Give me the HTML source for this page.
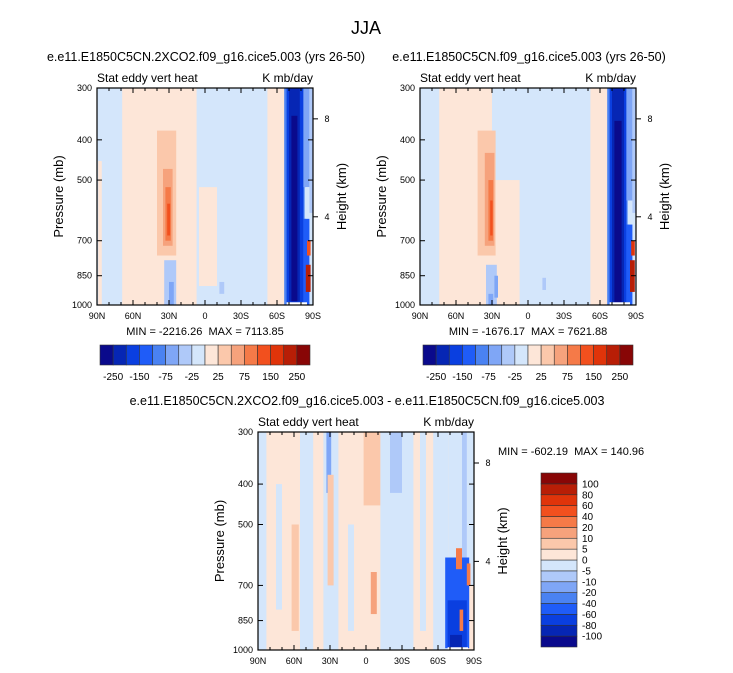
<!DOCTYPE html>
<html><head><meta charset="utf-8"><style>
html,body{margin:0;padding:0;background:#fff;}
svg{display:block;font-family:"Liberation Sans",Arial,sans-serif;}
</style></head><body>
<svg id="fig" width="733" height="673" viewBox="0 0 733 673" xmlns="http://www.w3.org/2000/svg">
<text x="366" y="34" font-size="18" text-anchor="middle">JJA</text>
</svg>
<script>
// ---- data ----
const colors = ["#0a0a8c","#0626b4","#0a3fe0","#1f5cf8","#4a82f2","#7fa6f6","#afc9f9","#d4e6fb","#fde6d8","#fbc8ab","#f6a27c","#f57a48","#f2501e","#e0340a","#b81e06","#880606"];
const topLevelLabels = ["-250","-150","-75","-25","25","75","150","250"];
const diffLevelLabels = ["100","80","60","40","20","10","5","0","-5","-10","-20","-40","-60","-80","-100"];
const latTicks = [90,60,30,0,-30,-60,-90];
const latTickLabels = ["90N","60N","30N","0","30S","60S","90S"];
const pTicks = [300,400,500,700,850,1000];
const heightTicks = [8,4];
const heightPressures = [356,613];
// field patches: [lat1, lat2, pTop, pBottom, colorIndex]
const field1 = [
 [90,-90,300,1000,7],[69,7,300,1000,8],[89,86,450,1000,8],
 [40,24,380,760,9],[35,27,470,720,10],[33,28.5,520,700,11],[31.5,29,570,680,12],
 [34,24,780,1000,6],[30,26,880,1000,5],[5,-10,520,900,8],
 [-12,-16,880,940,6],[-52,-68,300,1000,8],
 [-66,-84,300,1000,4],[-68,-82,300,1000,2],[-70,-79,300,980,1],[-72,-77,350,980,0],
 [-82,-87,300,520,5],[-83,-88,520,620,7],[-82,-87,620,1000,3],
 [-85,-88,700,760,12],[-84,-88,800,930,14],[-87,-90,300,600,6]
];
const field2 = [
 [90,-90,300,1000,7],[74,50,300,1000,8],[50,30,300,1000,8],[30,7,500,1000,8],
 [42,27,380,760,9],[36,28,430,720,10],[33,29,500,700,11],[31.5,29.5,560,680,12],
 [35,26,800,1000,6],[28,25,850,960,5],[33,29,940,1000,5],
 [-12,-15,860,920,6],[-52,-67,300,1000,8],
 [-66,-84,300,1000,4],[-68,-82,300,1000,2],[-70,-80,300,985,1],[-72,-78,360,985,0],
 [-82,-87,300,560,5],[-83,-87,560,640,7],[-82,-87,640,1000,3],
 [-86,-89,700,760,13],[-85,-89,780,930,14],[-87,-90,300,600,6]
];
const field3 = [
 [90,-90,300,1000,8],[90,83,300,1000,7],[55,44,300,1000,7],[35.5,23,300,1000,7],
 [33,29,300,420,5],[62,56,500,900,9],[32,27,380,700,9],[75,70,400,800,7],
 [2,-12,300,450,9],[-4,-9,650,820,10],[-12,-39.5,300,1000,7],[-20,-30,300,420,6],
 [15,10,500,900,7],[-45,-50,300,900,7],
 [-56,-69,300,1000,7],[-69,-90,300,700,7],[-80,-84,300,700,6],
 [-66,-86,600,990,3],[-68,-84,760,990,2],[-70,-80,920,990,1],
 [-75,-80,570,640,11],[-84,-87,620,700,11],[-78,-81,800,900,11]
];

const svg = document.getElementById('fig');
const NS = "http://www.w3.org/2000/svg";
function mk(tag, attrs, parent){ const e=document.createElementNS(NS,tag); for(const k in attrs) e.setAttribute(k,attrs[k]); (parent||svg).appendChild(e); return e; }

function panel(x0,y0,w,h,field,title,minmax,mmx,mmy,mmAnchor,name){
  const g = mk('g',{});
  
  
  const xs = lat => x0 + (90-lat)/180*w;
  const ys = p => y0 + Math.log(p/300)/Math.log(1000/300)*h;
  field.forEach(f=>{
    const r = mk('rect',{x:xs(f[0]),y:ys(f[2]),width:xs(f[1])-xs(f[0]),height:ys(f[3])-ys(f[2]),fill:colors[f[4]]},g);
    
    
  });
  const wn = mk('rect',{x:xs(-68),y:ys(985),width:xs(-85)-xs(-68),height:ys(1000)-ys(985),fill:'#fff'},g);
  
  
  const fr = mk('rect',{x:x0,y:y0,width:w,height:h,fill:'none',stroke:'#000','stroke-width':1.2},g);
  
  
  for(let lat=90; lat>=-90; lat-=10){
    const major = lat%30===0, len = major?5:3;
    mk('line',{x1:xs(lat),x2:xs(lat),y1:y0+h,y2:y0+h-len,stroke:'#000'},g);
    mk('line',{x1:xs(lat),x2:xs(lat),y1:y0,y2:y0+len,stroke:'#000'},g);
  }
  latTicks.forEach((lat,i)=>{
    const t = mk('text',{x:xs(lat),y:y0+h+14,'font-size':9,'text-anchor':'middle'},g);
    t.textContent = latTickLabels[i];
    
    
  });
  pTicks.forEach(p=>{
    mk('line',{x1:x0,x2:x0+5,y1:ys(p),y2:ys(p),stroke:'#000'},g);
    mk('line',{x1:x0+w,x2:x0+w-5,y1:ys(p),y2:ys(p),stroke:'#000'},g);
    const t = mk('text',{x:x0-5,y:ys(p)+3,'font-size':9,'text-anchor':'end'},g);
    t.textContent = p;
    
    
  });
  heightTicks.forEach((hk,i)=>{
    const yy = ys(heightPressures[i]);
    mk('line',{x1:x0+w,x2:x0+w+5,y1:yy,y2:yy,stroke:'#000'},g);
    const t = mk('text',{x:x0+w+14,y:yy+3,'font-size':9,'text-anchor':'middle'},g);
    t.textContent = hk;
    
    
  });
  const t1 = mk('text',{x:x0,y:y0-6,'font-size':12},g); t1.textContent='Stat eddy vert heat';
   
  const t2 = mk('text',{x:x0+w,y:y0-6,'font-size':12,'text-anchor':'end'},g); t2.textContent='K mb/day';
   
  const tt = mk('text',{x:x0+w/2+1,y:y0-27,'font-size':12.5,'text-anchor':'middle'},g); tt.textContent=title;
   
  const yl = mk('text',{x:0,y:0,'font-size':13,'text-anchor':'middle',transform:`translate(${x0-34},${y0+h/2}) rotate(-90)`},g); yl.textContent='Pressure (mb)';
   
  const hl = mk('text',{x:0,y:0,'font-size':13,'text-anchor':'middle',transform:`translate(${x0+w+33},${y0+h/2}) rotate(-90)`},g); hl.textContent='Height (km)';
   
  const mm = mk('text',{x:mmx,y:mmy,'font-size':11,'text-anchor':mmAnchor,'xml:space':'preserve',style:'white-space:pre'},g); mm.textContent=minmax;
   
}
function hbar(x0,y0,w,h,name){
  const g = mk('g',{});
  
  
  const bw = w/colors.length;
  colors.forEach((c,i)=>{
    const r = mk('rect',{x:x0+i*bw,y:y0,width:bw,height:h,fill:c,stroke:'#333','stroke-width':0.6},g);
    
    
  });
  topLevelLabels.forEach((lb,i)=>{
    const t = mk('text',{x:x0+(2*i+1)*bw,y:y0+h+15,'font-size':10,'text-anchor':'middle'},g);
    t.textContent = lb;
    
    
  });
}
function vbar(x0,y0,w,h,name){
  const g = mk('g',{});
  
  
  const bh = h/colors.length;
  colors.forEach((c,i)=>{
    const r = mk('rect',{x:x0,y:y0+(colors.length-1-i)*bh,width:w,height:bh,fill:c,stroke:'#333','stroke-width':0.6},g);
    
    
  });
  diffLevelLabels.forEach((lb,i)=>{
    const t = mk('text',{x:x0+w+5,y:y0+(i+1)*bh+3.5,'font-size':10},g);
    t.textContent = lb;
    
    
  });
}
panel(97,88,216,217,field1,'e.e11.E1850C5CN.2XCO2.f09_g16.cice5.003 (yrs 26-50)','MIN = -2216.26  MAX = 7113.85',205,335,'middle','panel-2xco2');
panel(420,88,216,217,field2,'e.e11.E1850C5CN.f09_g16.cice5.003 (yrs 26-50)','MIN = -1676.17  MAX = 7621.88',528,335,'middle','panel-control');
panel(258,432,216,218,field3,'e.e11.E1850C5CN.2XCO2.f09_g16.cice5.003 - e.e11.E1850C5CN.f09_g16.cice5.003','MIN = -602.19  MAX = 140.96',498,455,'start','panel-difference');
hbar(100,345,210,20,'colorbar-2xco2');
hbar(423,345,210,20,'colorbar-control');
vbar(541,473,36,174,'colorbar-difference');
</script>
</body></html>
